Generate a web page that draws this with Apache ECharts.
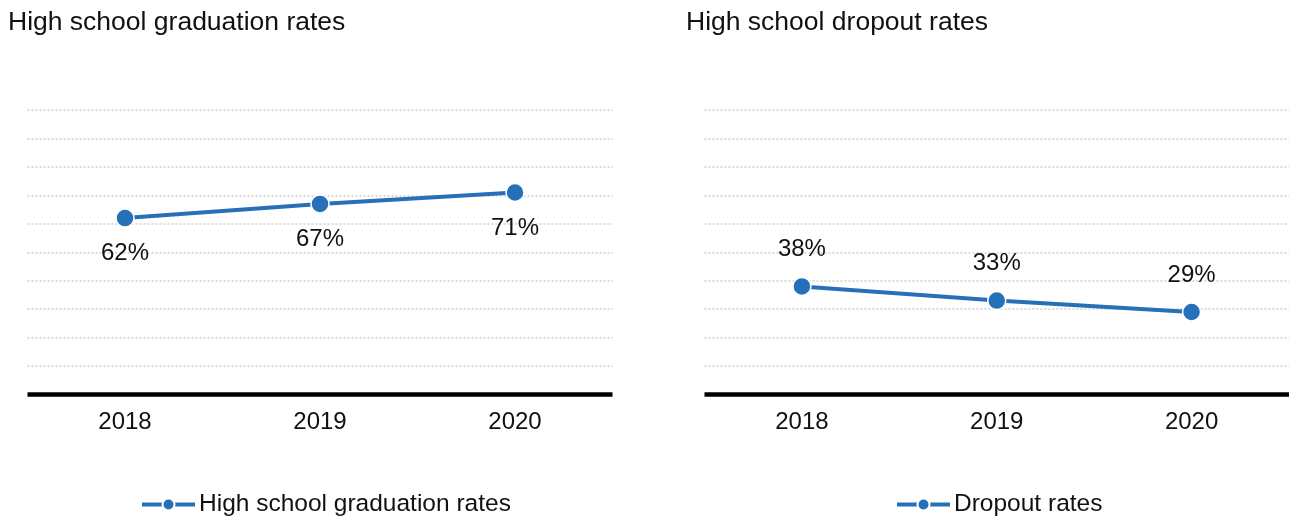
<!DOCTYPE html>
<html>
<head>
<meta charset="utf-8">
<script src="https://cdn.jsdelivr.net/npm/echarts@6/dist/echarts.min.js"></script>
<style>
  html, body { margin: 0; padding: 0; background: #fff; }
  #chart { width: 1289px; height: 519px; }
</style>
</head>
<body>
<div id="chart"></div>
<script>
// Years shown on both panels
const years = ['2018', '2019', '2020'];
// Percent of students
const graduationRates = [62, 67, 71];
const dropoutRates = [38, 33, 29];

const panelTitles = ['High school graduation rates', 'High school dropout rates'];
const seriesNames = ['High school graduation rates', 'Dropout rates'];

const FONT = '"Liberation Sans", Arial, sans-serif';
const BLUE = '#2570b8';
const INK = '#111';

function xAxisFor(gridIndex) {
  return {
    type: 'category',
    gridIndex,
    data: years,
    boundaryGap: true,
    axisLine: { show: true, lineStyle: { color: '#000', width: 4.5, cap: 'butt' } },
    axisTick: { show: false },
    axisLabel: { color: INK, fontSize: 24, fontFamily: FONT, margin: 16 }
  };
}

function yAxisFor(gridIndex) {
  return {
    type: 'value',
    gridIndex,
    min: 0,
    max: 100,
    interval: 10,
    axisLine: { show: false },
    axisTick: { show: false },
    axisLabel: { show: false },
    splitLine: { show: true, lineStyle: { color: '#cfcfcf', width: 1.5, type: [2, 2] } }
  };
}

function lineSeries(name, data, idx, labelPos, dist) {
  return {
    name,
    type: 'line',
    xAxisIndex: idx,
    yAxisIndex: idx,
    data,
    symbol: 'circle',
    symbolSize: 18,
    lineStyle: { color: BLUE, width: 4 },
    itemStyle: { color: BLUE, borderColor: '#fff', borderWidth: 1.5 },
    label: {
      show: true,
      position: labelPos,
      distance: dist,
      formatter: '{c}%',
      color: INK,
      fontSize: 24,
      fontFamily: FONT
    },
    emphasis: { disabled: true },
    animation: false
  };
}

const legendCommon = {
  itemWidth: 53, itemHeight: 15, itemGap: 6,
  lineStyle: { width: 4 },
  textStyle: { fontSize: 24.5, color: INK, fontFamily: FONT, padding: [0, 0, 0, -1] }
};

const chart = echarts.init(document.getElementById('chart'), null, { renderer: 'canvas' });
chart.setOption({
  backgroundColor: '#fff',
  animation: false,
  title: [
    { text: panelTitles[0], left: 3, top: 4,
      textStyle: { fontSize: 26.5, fontWeight: 'normal', color: INK, fontFamily: FONT } },
    { text: panelTitles[1], left: 681, top: 4,
      textStyle: { fontSize: 26.5, fontWeight: 'normal', color: INK, fontFamily: FONT } }
  ],
  legend: [
    Object.assign({ data: [seriesNames[0]], left: 135, top: 487 }, legendCommon),
    Object.assign({ data: [seriesNames[1]], left: 890, top: 487 }, legendCommon)
  ],
  grid: [
    { left: 27.5, width: 585, top: 110, height: 284.5 },
    { left: 704.5, width: 585, top: 110, height: 284.5 }
  ],
  xAxis: [xAxisFor(0), xAxisFor(1)],
  yAxis: [yAxisFor(0), yAxisFor(1)],
  series: [
    lineSeries(seriesNames[0], graduationRates, 0, 'bottom', 14),
    lineSeries(seriesNames[1], dropoutRates, 1, 'top', 15)
  ]
});
</script>
</body>
</html>
